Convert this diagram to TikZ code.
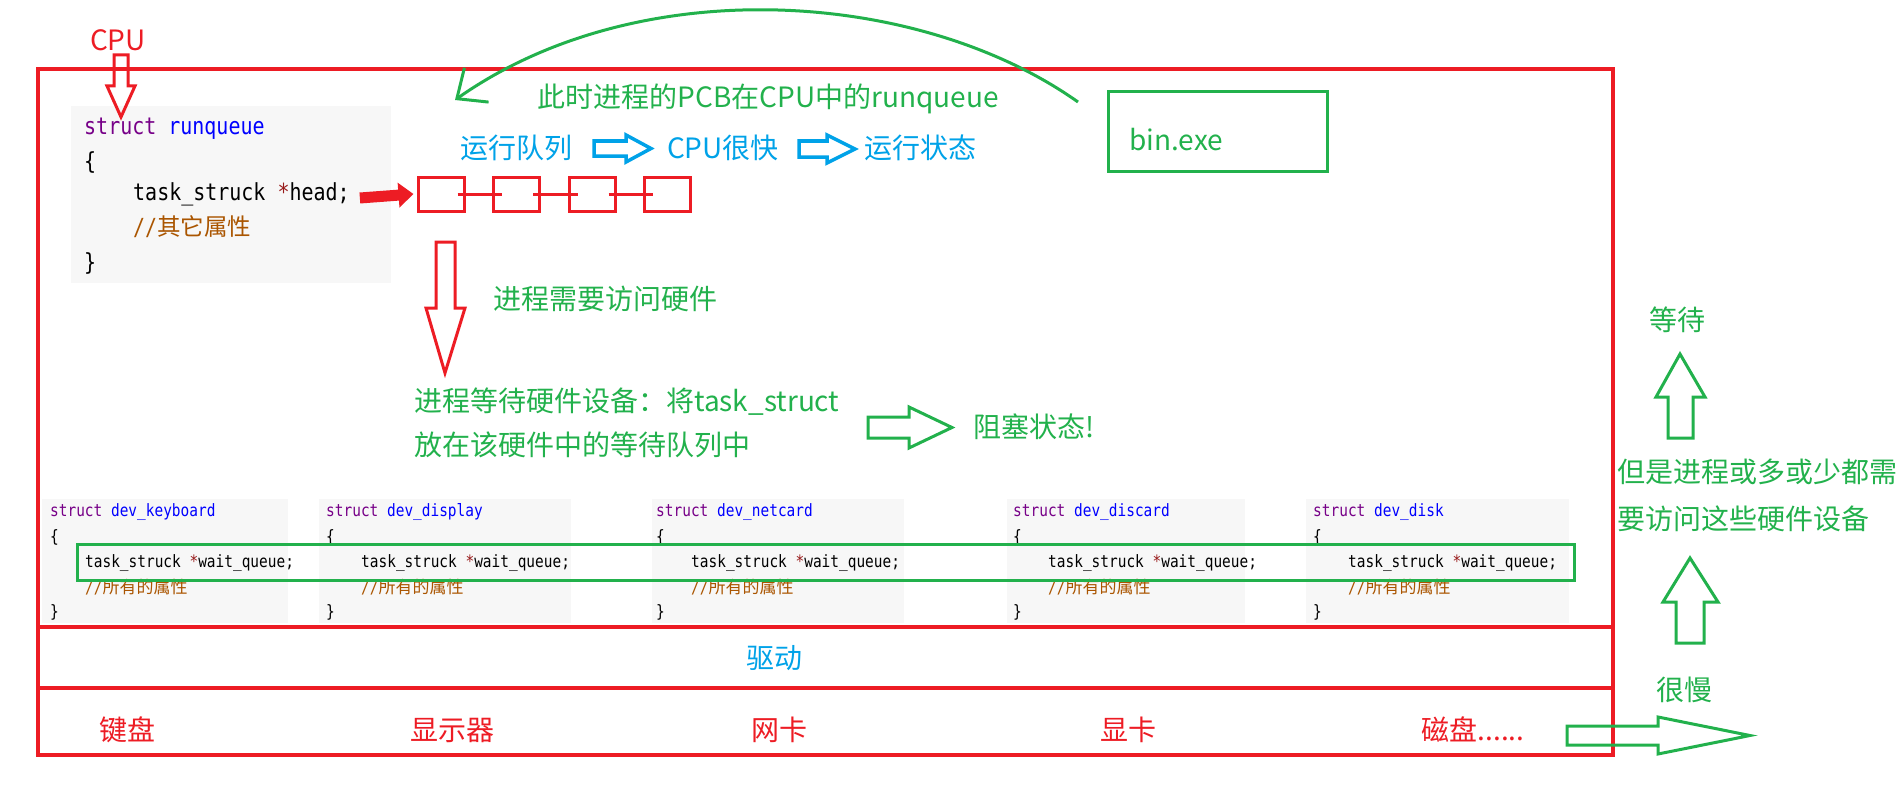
\documentclass[tikz,border=0pt]{standalone}
\usepackage{fontspec}
\usepackage{tikz}
\usetikzlibrary{arrows.meta,calc,positioning}
\newfontfamily\cjk{Noto Sans CJK SC}
\newfontfamily\code[FakeStretch=0.85]{DejaVu Sans Mono}
\definecolor{pred}{HTML}{ED1C24}
\definecolor{pgreen}{HTML}{22B14C}
\definecolor{pblue}{HTML}{00A2E8}
\definecolor{kwcol}{HTML}{770088}
\definecolor{defcol}{HTML}{0000FF}
\definecolor{opcol}{HTML}{981A1A}
\definecolor{cmtcol}{HTML}{AA5500}
\definecolor{codebg}{HTML}{F7F7F7}

\begin{document}
\begin{tikzpicture}[x=1pt, y=-1pt,
        lbl/.style={font=\cjk\fontsize{28}{34}\selectfont, inner sep=0pt, text height=0.88em, text depth=0.12em, yshift=-7pt},
        codebig/.style={font=\code\fontsize{23.5}{28}\selectfont, inner sep=0pt, anchor=west, text height=0.75em, text depth=0.25em, yshift=-5pt},
        codesmall/.style={font=\code\fontsize{17}{20}\selectfont, inner sep=0pt, anchor=west, text height=0.75em, text depth=0.25em, yshift=-5pt},
        qbox/.style={draw=pred, line width=3pt, minimum width=46pt, minimum height=34pt, inner sep=0pt},
        fat/.style={line width=3pt, line join=miter}]
        \useasboundingbox (0,0) rectangle (1897,789);

        % runqueue code
        \fill[codebg] (71,106) rectangle (391,283);
        \node[codebig] (rq-s) at (84,127) {\textcolor{kwcol}{struct} \textcolor{defcol}{runqueue}};
        \node[codebig] (rq-o) at (84,162) {\{};
        \node[codebig] (head) at (133,193) {task\_struck \textcolor{opcol}{*}head;};
        \node[codebig, text=cmtcol] (rq-c) at (133,228) {//{\cjk 其它属性}};
        \node[codebig] (rq-e) at (84,263) {\}};

        % device structs
        \foreach \l/\r/\tx/\dev in {42/288/50/keyboard, 319/571/326/display, 652/904/656/netcard, 1007/1245/1013/discard, 1306/1569/1313/disk} {
            \fill[codebg] (\l,499) rectangle (\r,623);
            \node[codesmall] (\dev-s) at (\tx,509) {\textcolor{kwcol}{struct} \textcolor{defcol}{dev\_\dev}};
            \node[codesmall] (\dev-o) at (\tx,535) {\{};
            \node[codesmall] (\dev-w) at (\tx+35,560) {task\_struck \textcolor{opcol}{*}wait\_queue;};
            \node[codesmall, text=cmtcol] (\dev-c) at (\tx+35,586) {//{\cjk 所有的属性}};
            \node[codesmall] (\dev-e) at (\tx,610) {\}};
        }
        \draw[pgreen, line width=3pt] (77,544) rectangle (1574,580);

        % frame
        \draw[pred, line width=4pt] (38,69) rectangle (1613,755);
        \draw[pred, line width=4pt] (38,627) -- (1613,627) (38,688) -- (1613,688);

        % run queue
        \node[qbox] (q1) at (441,194) {};
        \node[qbox, right=26.5pt of q1] (q2) {};
        \node[qbox, right=26.5pt of q2] (q3) {};
        \node[qbox, right=26.5pt of q3] (q4) {};
        \foreach \a/\b in {q1/q2, q2/q3, q3/q4} {
            \draw[pred, line width=3pt] ($(\a.east)+(-8,0)$) -- ($(\b.west)+(10,0)$);
        }
        \draw[pred, line width=11pt, -{Triangle[length=15pt,width=24pt]}] ($(head.east)+(10,0)$) -- ($(q1.west)+(-3,0)$);

        % labels
        \node[lbl, text=pred] (cpu) at (118,40) {CPU};
        \draw[pred, fat] (114,55) -- (128,55) -- (128,86) -- (135,86) -- (121,117) -- (107,86) -- (114,86) -- cycle;
        \node[lbl, text=pgreen] (pcb) at (768,97) {此时进程的PCB在CPU中的runqueue};
        \node[lbl, text=pblue] (runq) at (516,148) {运行队列};
        \node[lbl, text=pblue] (fast) at (723,148) {CPU很快};
        \node[lbl, text=pblue] (running) at (920,148) {运行状态};
        \draw[pblue, line width=3.5pt, line join=miter] (594,141) -- (626,141) -- (626,135) -- (651,148.5) -- (626,162) -- (626,156) -- (594,156) -- cycle;
        \draw[pblue, line width=3.5pt, line join=miter] (799,141) -- (827,141) -- (827,135) -- (855,149) -- (827,163) -- (827,157) -- (799,157) -- cycle;

        \node[draw=pgreen, line width=3pt, minimum width=219pt, minimum height=80pt] (binbox) at (1218,131.5) {};
        \node[lbl, text=pgreen, anchor=west, text height=0.75em, text depth=0pt] (binexe) at (1129,140) {bin.exe};
        \coordinate (from) at ($(binbox.north west)+(-29,12)$);
        \coordinate (to) at (455,100);
        \draw[pgreen, line width=3pt, -{Straight Barb[length=24pt,width=42pt]}] (from) .. controls (920,-10) and (640,-30) .. (to);

        \draw[pred, fat] (436,242) -- (455,242) -- (455,308) -- (465,308) -- (445,373) -- (426,308) -- (436,308) -- cycle;
        \node[lbl, text=pgreen] (need) at (605,299) {进程需要访问硬件};
        \node[lbl, text=pgreen, anchor=west] (wait1) at (414,401) {进程等待硬件设备：将task\_struct};
        \node[lbl, text=pgreen, anchor=west] (wait2) at (414,445) {放在该硬件中的等待队列中};
        \draw[pgreen, fat] (868,417) -- (909,417) -- (909,407) -- (952,427.5) -- (909,448) -- (909,438) -- (868,438) -- cycle;
        \node[lbl, text=pgreen, anchor=west] (blocked) at (973,427) {阻塞状态!};

        \node[lbl, text=pblue] (driver) at (774,658) {驱动};
        \node[lbl, text=pred] (kbd) at (127,730) {键盘};
        \node[lbl, text=pred] (disp) at (452,730) {显示器};
        \node[lbl, text=pred] (net) at (779,730) {网卡};
        \node[lbl, text=pred] (gpu) at (1128,730) {显卡};
        \node[lbl, text=pred] (disk) at (1473,730) {磁盘......};

        % right side
        \node[lbl, text=pgreen] (waiting) at (1677,320) {等待};
        \draw[pgreen, fat] (1668,438) -- (1668,397) -- (1656,397) -- (1680,354) -- (1705,397) -- (1693,397) -- (1693,438) -- cycle;
        \node[lbl, text=pgreen, anchor=west] (but1) at (1617,472) {但是进程或多或少都需};
        \node[lbl, text=pgreen, anchor=west] (but2) at (1617,519) {要访问这些硬件设备};
        \draw[pgreen, fat] (1676,643) -- (1676,602) -- (1663,602) -- (1690,558) -- (1718,602) -- (1704,602) -- (1704,643) -- cycle;
        \node[lbl, text=pgreen] (slow) at (1684,690) {很慢};
        \draw[pgreen, fat] (1567,726) -- (1658,726) -- (1658,717) -- (1750,735.5) -- (1658,754) -- (1658,745) -- (1567,745) -- cycle;
\end{tikzpicture}
\end{document}
